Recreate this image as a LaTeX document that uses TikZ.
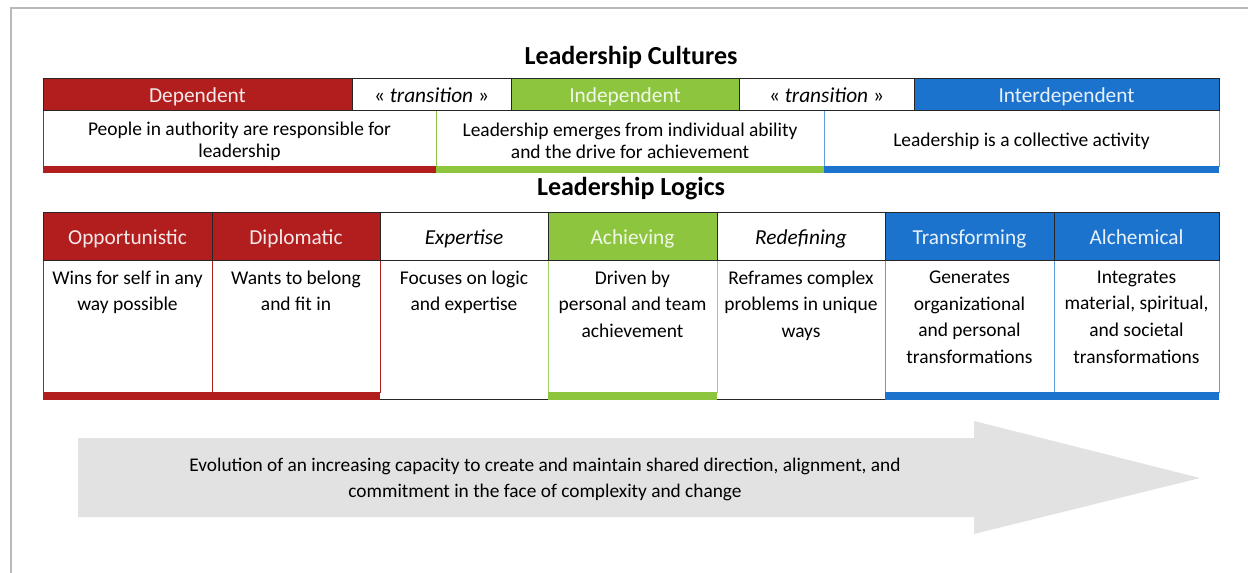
\documentclass[tikz,border=0pt]{standalone}
\usepackage{fontspec}
\setmainfont{Carlito}

\definecolor{lcred}{HTML}{B21E1E}
\definecolor{lcgreen}{HTML}{8DC53F}
\definecolor{lcblue}{HTML}{1C73CE}
\definecolor{lcgray}{HTML}{E2E2E2}

\tikzset{
  hdr/.style={draw=black!85, line width=0.6pt},
  hdrtext/.style={font=\fontsize{16}{18}\selectfont, text height=0.85em, text depth=0.1em, yshift=-3pt},
  desctext/.style={font=\fontsize{14.6}{16.5}\selectfont, align=center, black, yshift=-2.4pt},
  bodytext/.style={font=\fontsize{14.6}{20}\selectfont, align=center, anchor=north},
  title/.style={font=\fontsize{19.5}{22}\selectfont\bfseries, anchor=base}
}

\begin{document}
\begin{tikzpicture}[x=0.75pt,y=-0.75pt]
  \useasboundingbox (0,0) rectangle (1248,573);
  \draw[black!27, line width=2.2pt] (11,573) -- (11,8) -- (1248,8); %frame

  % leadership cultures
  \node[title] (cultures) at (631,65) {Leadership Cultures};

  \draw[lcred, line width=0.6pt] (43,110) rectangle (436,166) node[pos=.5, desctext] (dep-desc) {People in authority are responsible for\\leadership}; %dependent
  \draw[lcgreen, line width=0.6pt] (436,110) rectangle (824,166) node[pos=.5, desctext] (ind-desc) {Leadership emerges from individual ability\\and the drive for achievement}; %independent
  \draw[lcblue!70, line width=0.6pt] (824,110) rectangle (1219,166) node[pos=.5, desctext] (inter-desc) {Leadership is a collective activity}; %interdependent
  \fill[lcred] (43,166) rectangle (436,173);
  \fill[lcgreen] (436,166) rectangle (824,173);
  \fill[lcblue] (824,166) rectangle (1219,173);

  \draw[hdr, fill=lcred] (43,78) rectangle (352,110) node[pos=.5, hdrtext, text=white!90!lcred] (dep) {Dependent}; %dependent
  \draw[hdr, fill=white] (352,78) rectangle (511,110) node[pos=.5, hdrtext] (trans-a) {« \textit{transition} »}; %transition
  \draw[hdr, fill=lcgreen] (511,78) rectangle (739,110) node[pos=.5, hdrtext, text=white!88!lcgreen] (ind) {Independent}; %independent
  \draw[hdr, fill=white] (739,78) rectangle (914,110) node[pos=.5, hdrtext] (trans-b) {« \textit{transition} »}; %transition
  \draw[hdr, fill=lcblue] (914,78) rectangle (1219,110) node[pos=.5, hdrtext, text=white!90!lcblue] (inter) {Interdependent}; %interdependent

  % leadership logics
  \node[title] (logics) at (631,196) {Leadership Logics};

  \draw[black!85, line width=0.6pt] (380,399) -- (548,399);
  \draw[black!85, line width=0.6pt] (717,399) -- (885,399);
  \draw[lcred, line width=0.6pt] (43,260) rectangle (212,392); %opportunistic
  \draw[lcred, line width=0.6pt] (212,260) rectangle (380,392); %diplomatic
  \draw[lcgreen!80, line width=0.6pt] (548,260) rectangle (717,392); %achieving
  \draw[lcblue!70, line width=0.6pt] (885,260) rectangle (1054,392); %transforming
  \draw[lcblue!70, line width=0.6pt] (1054,260) rectangle (1219,392); %alchemical
  \fill[lcred] (43,392) rectangle (380,400);
  \fill[lcgreen] (548,392) rectangle (717,400);
  \fill[lcblue] (885,392) rectangle (1219,400);

  \draw[hdr, fill=lcred] (43,212) rectangle (212,260) node[pos=.5, hdrtext, text=white!90!lcred] (opp) {Opportunistic}; %opportunistic
  \draw[hdr, fill=lcred] (212,212) rectangle (380,260) node[pos=.5, hdrtext, text=white!90!lcred] (dip) {Diplomatic}; %diplomatic
  \draw[hdr, fill=white] (380,212) rectangle (548,260) node[pos=.5, hdrtext] (exp) {\textit{Expertise}}; %expertise
  \draw[hdr, fill=lcgreen] (548,212) rectangle (717,260) node[pos=.5, hdrtext, text=white!88!lcgreen] (ach) {Achieving}; %achieving
  \draw[hdr, fill=white] (717,212) rectangle (885,260) node[pos=.5, hdrtext] (red) {\textit{Redefining}}; %redefining
  \draw[hdr, fill=lcblue] (885,212) rectangle (1054,260) node[pos=.5, hdrtext, text=white!90!lcblue] (trf) {Transforming}; %transforming
  \draw[hdr, fill=lcblue] (1054,212) rectangle (1219,260) node[pos=.5, hdrtext, text=white!90!lcblue] (alc) {Alchemical}; %alchemical

  \node[bodytext] (opp-txt) at (127.5,266) {Wins for self in any\\way possible};
  \node[bodytext] (dip-txt) at (296,266) {Wants to belong\\and fit in};
  \node[bodytext] (exp-txt) at (464,266) {Focuses on logic\\and expertise};
  \node[bodytext] (ach-txt) at (632.5,266) {Driven by\\personal and team\\achievement};
  \node[bodytext] (red-txt) at (801,266) {Reframes complex\\problems in unique\\ways};
  \node[bodytext] (trf-txt) at (969.5,266) {Generates\\organizational\\and personal\\transformations};
  \node[bodytext] (alc-txt) at (1136.5,266) {Integrates\\material, spiritual,\\and societal\\transformations};

  % evolution arrow
  \fill[lcgray] (78,438) -- (974,438) -- (974,421) -- (1200,478) -- (974,534) -- (974,517) -- (78,517) -- cycle;
  \node[align=center, font=\fontsize{14.5}{19}\selectfont] (evolution) at (545,479.5) {Evolution of an increasing capacity to create and maintain shared direction, alignment, and\\commitment in the face of complexity and change};
\end{tikzpicture}
\end{document}
